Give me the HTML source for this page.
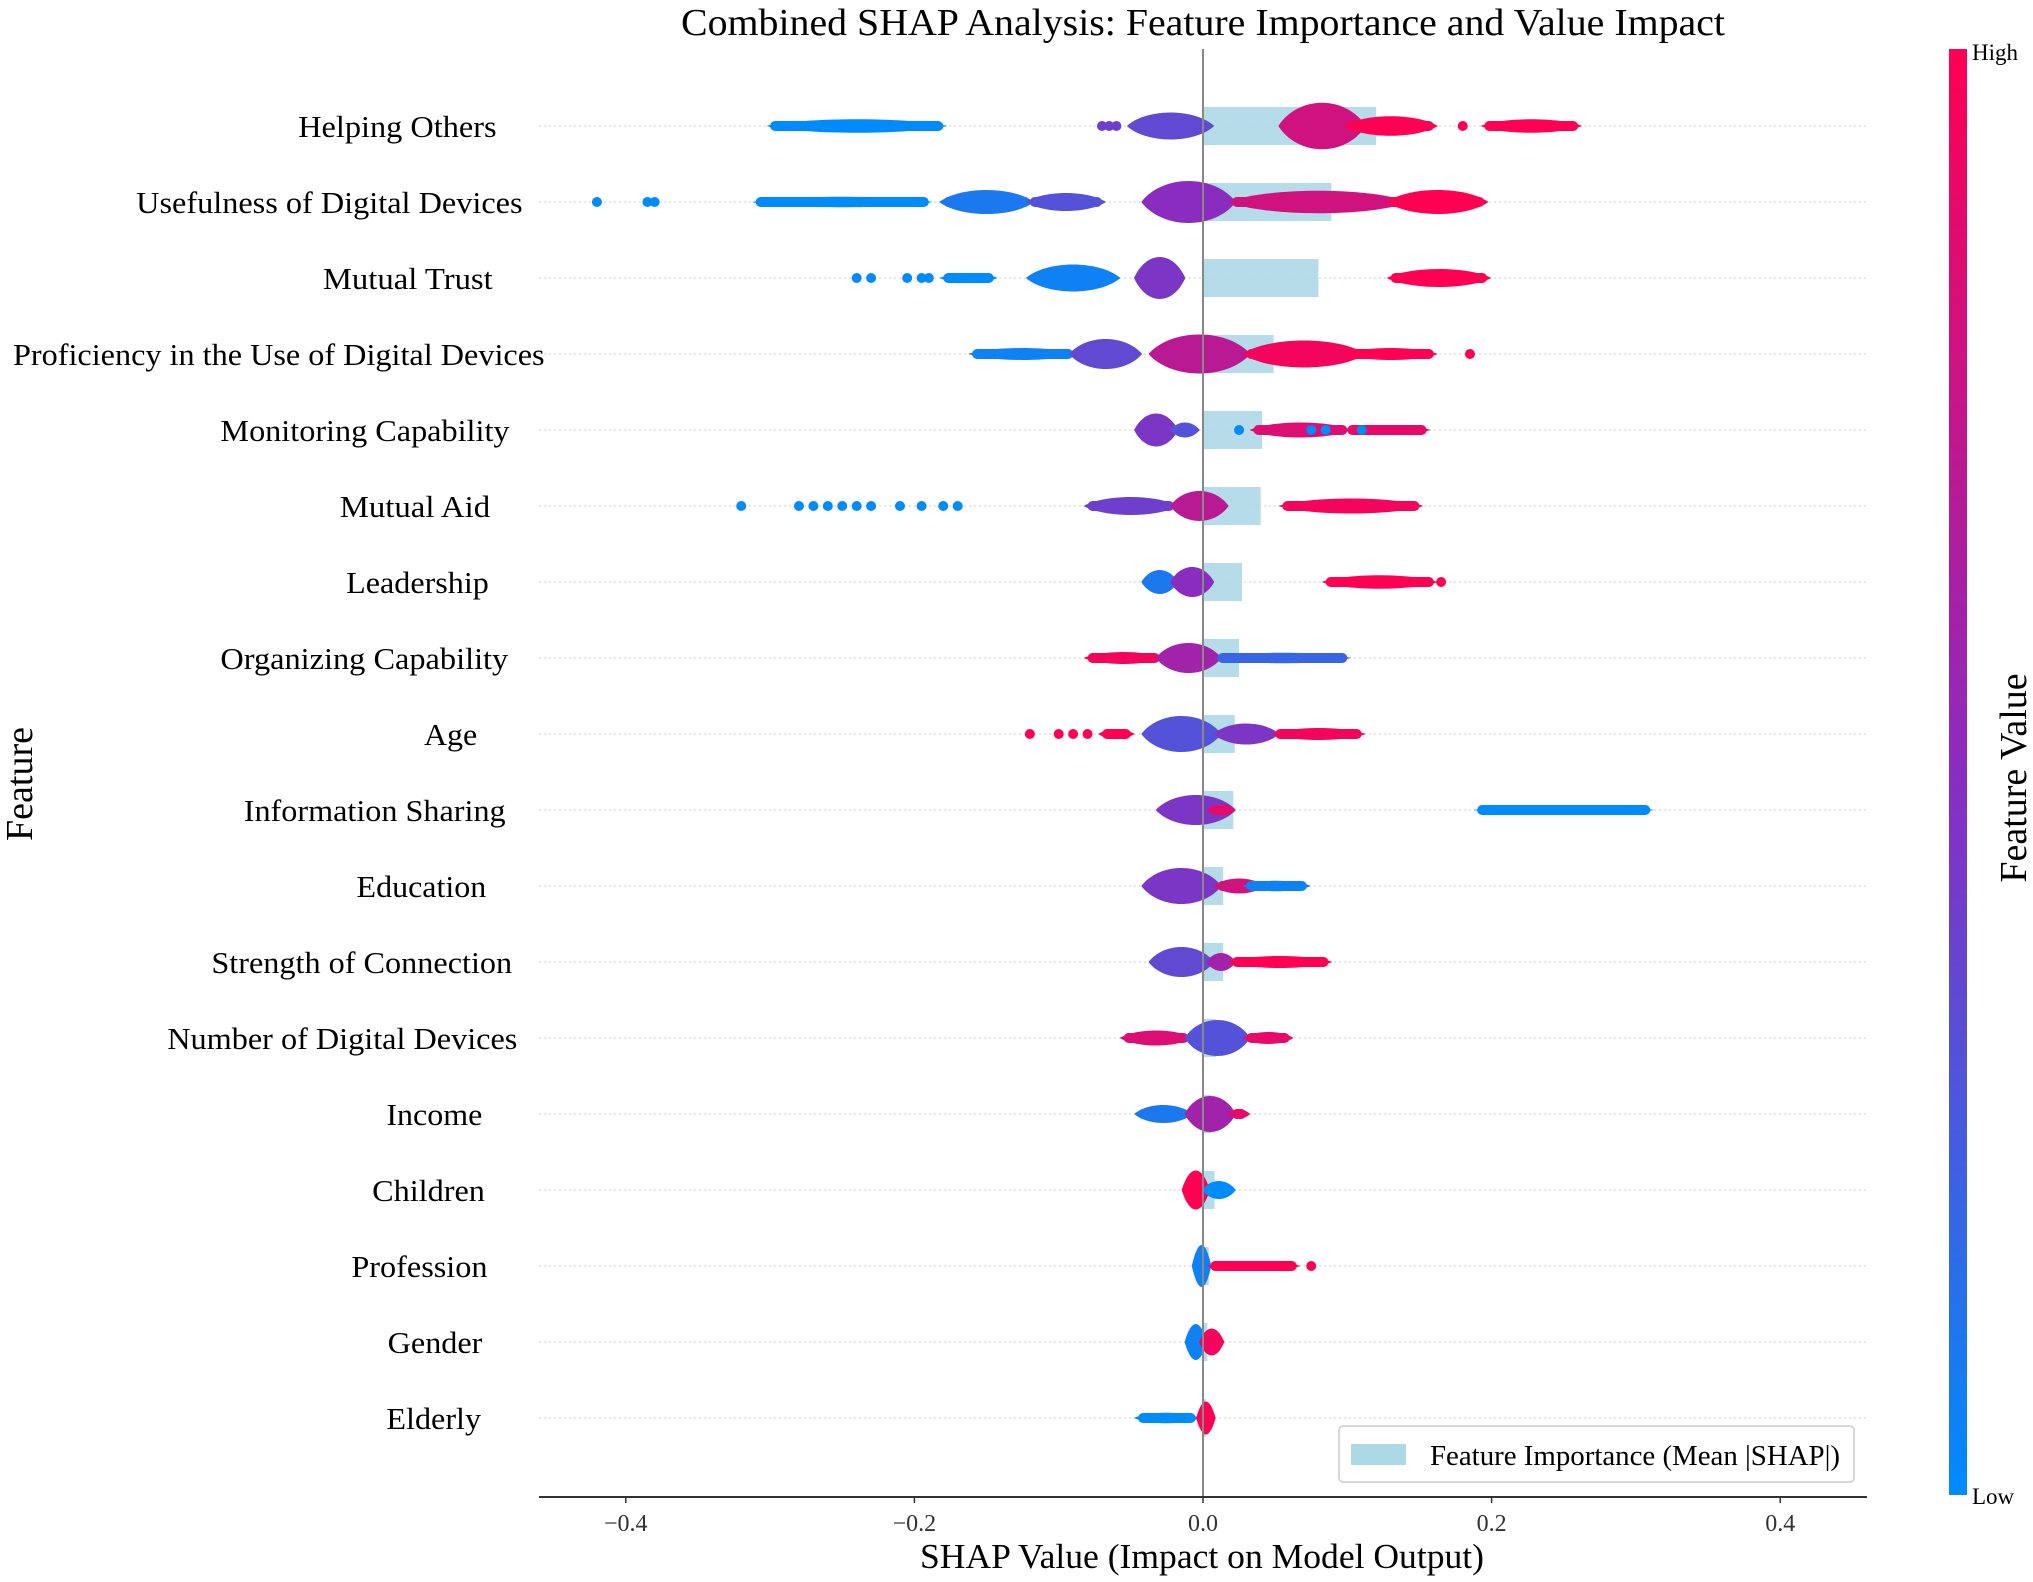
<!DOCTYPE html>
<html><head><meta charset="utf-8">
<style>html,body{margin:0;padding:0;background:#fff}svg{display:block;font-family:"Liberation Serif",serif}</style>
</head><body>
<svg id="chart" width="2033" height="1582" viewBox="0 0 2033 1582">
<defs><linearGradient id="cb" x1="0" y1="1" x2="0" y2="0"><stop offset="0" stop-color="#008bfb"/><stop offset="0.5" stop-color="#8a2cc0"/><stop offset="1" stop-color="#ff0052"/></linearGradient></defs>
<text x="681" y="35" font-size="38" textLength="1044" lengthAdjust="spacingAndGlyphs">Combined SHAP Analysis: Feature Importance and Value Impact</text>
<text transform="translate(32,784) rotate(-90)" font-size="38" text-anchor="middle">Feature</text>
<text x="920" y="1568" font-size="35" textLength="564" lengthAdjust="spacingAndGlyphs">SHAP Value (Impact on Model Output)</text>
<rect x="1949" y="49" width="18" height="1446" fill="url(#cb)"/>
<text x="1972" y="60" font-size="23">High</text>
<text x="1972" y="1504" font-size="23">Low</text>
<text transform="translate(2026,778) rotate(-90)" font-size="38" text-anchor="middle">Feature Value</text>
<g id="plot"></g>
<g>
<rect x="1339" y="1426" width="515" height="56" rx="4" fill="#fff" stroke="#ccc" stroke-width="1.5"/>
<rect x="1351" y="1444" width="55" height="21" fill="#add8e6"/>
<text x="1430" y="1465" font-size="28" textLength="410" lengthAdjust="spacingAndGlyphs">Feature Importance (Mean |SHAP|)</text>
</g>
</svg>
<script>
const features=["Helping Others","Usefulness of Digital Devices","Mutual Trust","Proficiency in the Use of Digital Devices","Monitoring Capability","Mutual Aid","Leadership","Organizing Capability","Age","Information Sharing","Education","Strength of Connection","Number of Digital Devices","Income","Children","Profession","Gender","Elderly"];
const labelLeft=[230,105,249,10,170,262,267,170,327,188,275,163,129,298,287,271,299,298];
const labelRight=[383,403,380,420,393,378,377,392,368,390,375,395,399,372,374,376,372,371];
const importance=[0.12,0.089,0.080,0.049,0.041,0.040,0.027,0.025,0.022,0.021,0.014,0.014,0.009,0.006,0.008,0.004,0.003,0.002];
const xTicks=[-0.4,-0.2,0.0,0.2,0.4];
// blobs: [x0,x1,halfHeight,colorValue]
const blobs=[
[[-0.30,-0.18,9,0],[-0.05,0.005,18,.35],[0.055,0.11,31,.8],[0.10,0.16,13,1],[0.195,0.26,9,1]],
[[-0.31,-0.19,7,0],[-0.18,-0.12,16,.1],[-0.12,-0.07,12,.3],[-0.04,0.02,28,.5],[0.02,0.14,15,.8],[0.13,0.195,16,1]],
[[-0.18,-0.145,6,0],[-0.12,-0.06,18,.05],[-0.045,-0.015,28,.45],[0.13,0.197,12,1]],
[[-0.16,-0.09,8,.05],[-0.09,-0.045,20,.35],[-0.035,0.03,26,.7],[0.03,0.11,18,.95],[0.10,0.16,8,1]],
[[-0.045,-0.02,22,.45],[-0.02,-0.005,10,.3],[0.035,0.10,10,.85],[0.10,0.155,6,.9]],
[[-0.08,-0.02,12,.4],[-0.02,0.015,20,.7],[0.055,0.15,10,.95]],
[[-0.04,-0.02,16,.1],[-0.02,0.005,20,.5],[0.085,0.16,9,1]],
[[-0.08,-0.03,8,.95],[-0.03,0.01,20,.6],[0.01,0.1,7,.2]],
[[-0.07,-0.05,6,1],[-0.04,0.01,24,.3],[0.01,0.05,14,.45],[0.05,0.11,8,.95]],
[[-0.03,0.02,20,.45],[0.005,0.02,6,.9],[0.19,0.31,6,0]],
[[-0.04,0.01,24,.45],[0.01,0.04,10,.8],[0.03,0.072,7,.05]],
[[-0.035,0.005,20,.35],[0.005,0.02,12,.6],[0.02,0.087,8,1]],
[[-0.055,-0.01,10,.85],[-0.01,0.03,24,.3],[0.03,0.06,8,.9]],
[[-0.045,-0.01,12,.1],[-0.01,0.02,24,.6],[0.02,0.03,6,.9]],
[[-0.012,0.002,26,1],[0.002,0.02,12,0]],
[[-0.005,0.003,28,.05],[0.005,0.065,6,1]],
[[-0.01,0.0,24,.05],[0.0,0.012,18,.95]],
[[-0.045,-0.005,7,0],[-0.002,0.006,22,1]]];
// single dots: [x,colorValue]
const dots=[
[[-0.07,.4],[-0.065,.4],[-0.06,.4],[0.18,1]],
[[-0.42,0],[-0.385,0],[-0.38,0]],
[[-0.24,0],[-0.23,0],[-0.205,0],[-0.195,0],[-0.19,0]],
[[0.185,1]],
[[0.025,0],[0.075,0],[0.085,0],[0.11,0]],
[[-0.32,0],[-0.28,0],[-0.27,0],[-0.26,0],[-0.25,0],[-0.24,0],[-0.23,0],[-0.21,0],[-0.195,0],[-0.18,0],[-0.17,0]],
[[0.165,1]],[],
[[-0.12,1],[-0.1,1],[-0.09,1],[-0.08,1]],
[],[],[],[],[],[],[[0.075,1]],[],[]];

const NS="http://www.w3.org/2000/svg";
const plot=document.getElementById('plot');
const X0=1203,SC=1443,Y0=126,DY=76,AXL=539,AXR=1867,AXY=1497,K=1.2966;
const xs=v=>X0+v*SC, ys=i=>Y0+i*DY;
function col(c){const a=[0,139,251],m=[138,44,192],b=[255,0,82];let p,q,t;if(c<.5){p=a;q=m;t=c*2}else{p=m;q=b;t=(c-.5)*2}return `rgb(${p.map((v,k)=>Math.round(v+(q[k]-v)*t)).join(',')})`;}
function mk(tag,attrs){const e=document.createElementNS(NS,tag);for(const k in attrs)e.setAttribute(k,attrs[k]);return e;}
features.forEach((f,i)=>{
  const y=ys(i);
  const g=mk('line',{x1:AXL,x2:AXR,y1:y,y2:y,stroke:'#ddd','stroke-width':1.5,'stroke-dasharray':'2 3'});
  
  
  plot.appendChild(g);
  const L=labelLeft[i]*K, R=labelRight[i]*K;
  const t=mk('text',{x:L,y:y+11,'font-size':31,textLength:(R-L).toFixed(1),lengthAdjust:'spacingAndGlyphs'});
  t.textContent=f;
  
  
  plot.appendChild(t);
  const b=mk('rect',{x:X0,y:y-19,width:importance[i]*SC,height:38,fill:'#add8e6','fill-opacity':0.9});
  
  
  plot.appendChild(b);
});
features.forEach((f,i)=>{
  const y=ys(i);
  blobs[i].forEach(bl=>{
    const a=xs(bl[0]),c=xs(bl[1]),h=Math.max(bl[2],5),w=c-a;
    const d=`M${a-4},${y} C${a+w*0.2},${y-h*1.0} ${c-w*0.2},${y-h*1.0} ${c+4},${y} C${c-w*0.2},${y+h*1.0} ${a+w*0.2},${y+h*1.0} ${a-4},${y}Z`;
    const p=mk('path',{d:d,fill:col(bl[3])});
    
    
    plot.appendChild(p);
    const r=mk('rect',{x:a,y:y-5,width:w,height:10,rx:5,fill:col(bl[3])});
    
    
    plot.appendChild(r);
  });
  dots[i].forEach(dt=>{
    const c=mk('circle',{cx:xs(dt[0]),cy:y,r:5,fill:col(dt[1])});
    
    
    plot.appendChild(c);
  });
});
const zl=mk('line',{x1:X0,x2:X0,y1:49,y2:AXY,stroke:'#888','stroke-width':2});


plot.appendChild(zl);
const ax=mk('line',{x1:AXL,x2:AXR,y1:AXY,y2:AXY,stroke:'#333','stroke-width':2});


plot.appendChild(ax);
xTicks.forEach(v=>{
  const tk=mk('line',{x1:xs(v),x2:xs(v),y1:AXY,y2:AXY+6,stroke:'#333','stroke-width':1.5});
  
  
  plot.appendChild(tk);
  const tl=mk('text',{x:xs(v),y:AXY+34,'font-size':24,'text-anchor':'middle',fill:'#333'});
  tl.textContent=(v<0?'\u2212':'')+Math.abs(v).toFixed(1);
  
  
  plot.appendChild(tl);
});
</script>
</body></html>
